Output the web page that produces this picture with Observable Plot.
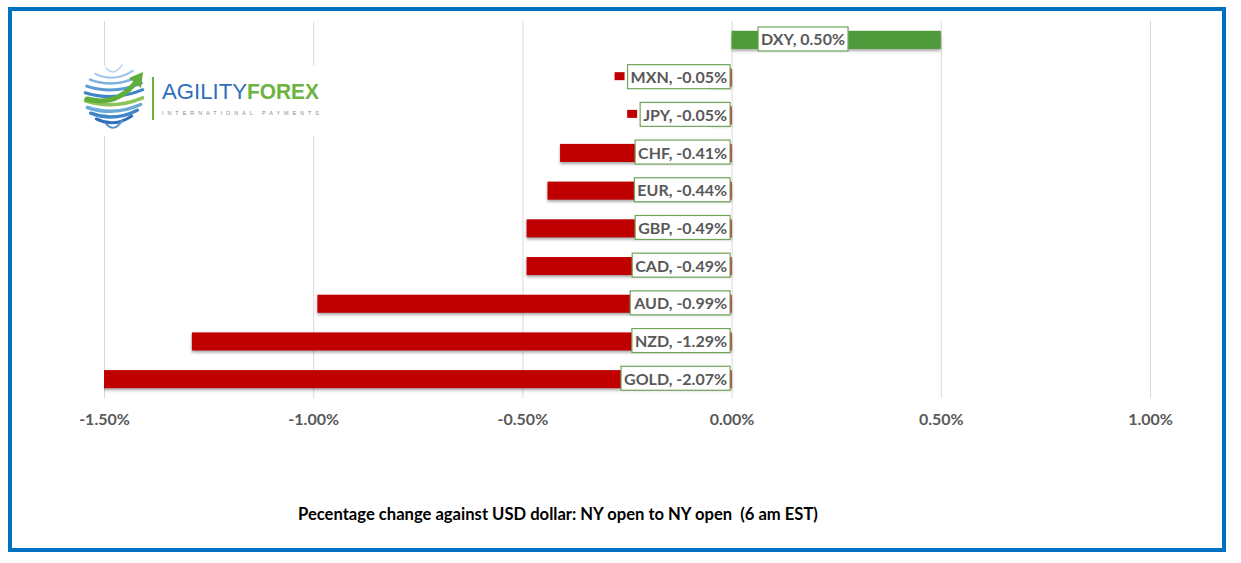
<!DOCTYPE html>
<html><head><meta charset="utf-8">
<script src="https://cdn.jsdelivr.net/npm/d3@7"></script>
<script src="https://cdn.jsdelivr.net/npm/@observablehq/plot@0.6"></script>
<style>
body{margin:0;background:#fff;}
#wrap{position:relative;width:1241px;height:563px;overflow:hidden;font-family:Lato,"Open Sans",sans-serif;background:#fff;}
#frame{position:absolute;left:8px;top:7px;width:1218px;height:545px;border:4.5px solid #0070C0;box-sizing:border-box;pointer-events:none;}
#chart{position:absolute;left:0;top:0;}
#logo{position:absolute;left:0;top:0;pointer-events:none;}
#caption{position:absolute;left:298px;top:504px;font-size:16.6px;font-weight:bold;color:#000;white-space:pre;font-family:Lato,"Open Sans",sans-serif;}
g[aria-label="bar"]{filter:drop-shadow(0px 2px 1.5px rgba(0,0,0,0.35));}
</style>
</head><body>
<div id="wrap">
  <div id="chart"></div>
  <svg id="logo" width="1241" height="563"></svg>
  <div id="caption"></div>
  <div id="frame"></div>
</div>
<script>
const currencies = ["DXY","MXN","JPY","CHF","EUR","GBP","CAD","AUD","NZD","GOLD"];
const changes = [0.50,-0.05,-0.05,-0.41,-0.44,-0.49,-0.49,-0.99,-1.29,-2.07];
const xTicks = [-1.5,-1.0,-0.5,0,0.5,1.0];
const captionText = "Pecentage change against USD dollar: NY open to NY open  (6 am EST)";
const RED = "#C00000", GREEN = "#4F9A3A", BOX = "#70A557", TXT = "#595959";

const data = currencies.map((c,i)=>({c, v:changes[i], label:`${c}, ${changes[i].toFixed(2)}%`, col: changes[i] < 0 ? RED : GREEN}));

const chart = Plot.plot({
  width:1241, height:440,
  marginLeft:104, marginRight:91, marginTop:21, marginBottom:42,
  style:{fontFamily:"Lato, 'Open Sans', sans-serif", background:"transparent", overflow:"visible"},
  x:{domain:[-1.5,1.0], label:null},
  y:{domain:currencies, paddingInner:0.52, paddingOuter:0.26, round:false, axis:null},
  color:{type:"identity"},
  marks:[
    Plot.gridX(xTicks,{stroke:"#d9d9d9", strokeOpacity:1, strokeWidth:1}),
    Plot.barX(data,{x1:0, x2:"v", y:"c", fill:"col", clip:true}),
    Plot.text(data.filter(d=>d.v<0),{x:0, y:"c", text:"label", textAnchor:"end", dx:-5, fontSize:16, fontWeight:"bold", fill:TXT}),
    Plot.text(data.filter(d=>d.v>=0),{x:0, y:"c", text:"label", textAnchor:"start", dx:29, fontSize:16, fontWeight:"bold", fill:TXT}),
    Plot.axisX(xTicks,{tickSize:0, tickPadding:15, label:null, tickFormat:d=>d.toFixed(2)+"%", fontSize:16, fontWeight:"bold", fill:TXT})
  ]
});
document.getElementById("chart").appendChild(chart);

// label boxes + legend keys
d3.select(chart).selectAll('g[aria-label="text"] text').each(function(){
  const b = this.getBBox();
  const name = this.textContent.split(",")[0];
  const v = changes[currencies.indexOf(name)];
  const tr = this.getAttribute("transform");
  const g = this.parentNode;
  const cy = b.y + b.height/2;
  const ns = "http://www.w3.org/2000/svg";
  const r = document.createElementNS(ns,"rect");
  const left = b.x - 3;
  r.setAttribute("x", left); r.setAttribute("y", cy-12);
  r.setAttribute("width", b.width+6); r.setAttribute("height", 24);
  r.setAttribute("fill","#fff"); r.setAttribute("stroke",BOX); r.setAttribute("stroke-width",1.2);
  if (tr) r.setAttribute("transform", tr);
  g.insertBefore(r, this);
  const k = document.createElementNS(ns,"rect");
  k.setAttribute("x", left-13); k.setAttribute("y", cy-4.5);
  k.setAttribute("width", 10); k.setAttribute("height", 8);
  k.setAttribute("fill", v<0?RED:GREEN); k.setAttribute("stroke","none");
  if (tr) k.setAttribute("transform", tr);
  g.insertBefore(k, r);
});

document.getElementById("caption").textContent = captionText;

// logo
const logo = d3.select("#logo");
logo.append("rect").attr("x",82).attr("y",66).attr("width",244).attr("height",70).attr("fill","#fff");
const lg = logo.append("g");
const cx=114, cy=98, R=29;
const bands = [
  {k:-3.4, c:"#b5d3ee", w:1.5},
  {k:-2.7, c:"#9cc4e8", w:2},
  {k:-2.0, c:"#7fb0df", w:2.5},
  {k:-1.2, c:"#5a9ad6", w:3},
  {k:-0.4, c:"#3f86c8", w:3},
  {k:0.6, c:"#8cc45a", w:3.5},
  {k:1.4, c:"#6aa9d9", w:3.5},
  {k:2.1, c:"#3f86c8", w:3.5},
  {k:2.8, c:"#2f6eba", w:3},
  {k:3.4, c:"#5b93d0", w:2}
];
bands.forEach(bd=>{
  const y = cy + bd.k*8.2;
  const dy = Math.min(Math.abs(bd.k*8.2), R-1);
  const w = Math.sqrt(R*R - dy*dy);
  lg.append("path").attr("d",`M${cx-w},${y-2} Q${cx},${y+7} ${cx+w},${y-5}`)
    .attr("fill","none").attr("stroke",bd.c).attr("stroke-width",bd.w).attr("stroke-linecap","round");
});
lg.append("path").attr("d",`M${cx-27},${cy+1} Q${cx+2},${cy+9} ${cx+22},${cy-16}`)
  .attr("fill","none").attr("stroke","#5fae3a").attr("stroke-width",5).attr("stroke-linecap","round");
lg.append("path").attr("d",`M${cx+29},${cy-26} L${cx+15},${cy-20} L${cx+27},${cy-10} Z`).attr("fill","#5fae3a");
logo.append("line").attr("x1",153).attr("x2",153).attr("y1",77).attr("y2",120).attr("stroke","#6cb33f").attr("stroke-width",2);
logo.append("text").attr("x",162).attr("y",99).attr("font-family","'Liberation Sans', Arial, sans-serif").attr("font-size",22.5)
  .attr("fill","#2f6eba").attr("textLength",85).attr("lengthAdjust","spacingAndGlyphs").text("AGILITY");
logo.append("text").attr("x",247).attr("y",99).attr("font-family","'Liberation Sans', Arial, sans-serif").attr("font-size",22.5)
  .attr("fill","#6cb33f").attr("textLength",72).attr("font-weight","bold").attr("lengthAdjust","spacingAndGlyphs").text("FOREX");
logo.append("text").attr("x",162).attr("y",115).attr("font-family","'Liberation Sans', Arial, sans-serif").attr("font-size",5.5)
  .attr("fill","#8a8a8a").attr("textLength",157).attr("lengthAdjust","spacing").text("INTERNATIONAL PAYMENTS");
</script>
</body></html>
